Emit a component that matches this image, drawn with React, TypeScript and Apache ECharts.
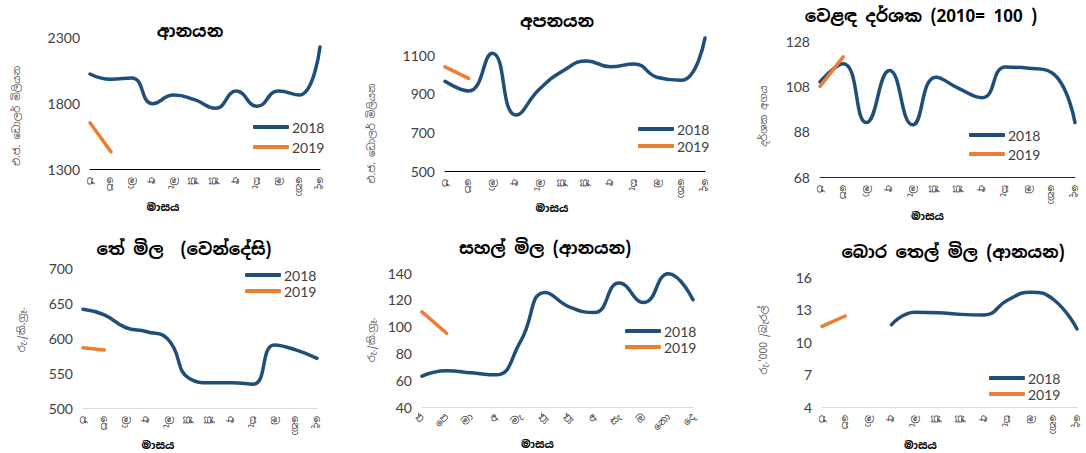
import React, { useEffect, useRef } from "react";
import * as echarts from "echarts";

const months = ["ජ", "පෙ", "මා", "අ", "මැ", "ජූ", "ජූ", "අ", "සැ", "ඔ", "නො", "දෙ"];
const seriesNames = ["2018", "2019"];

const titles = [
  "ආනයන",
  "අපනයන",
  "වෙළඳ දර්ශක (2010= 100 )",
  "තේ මිල  (වෙන්දේසි)",
  "සහල් මිල (ආනයන)",
  "බොර තෙල් මිල (ආනයන)",
];
const yNames = [
  "එ.ජ. ඩොලර් මිලියන",
  "එ.ජ. ඩොලර් මිලියන",
  "දර්ශක අගය",
  "රු./කි.ග්‍රෑ.",
  "රු./කි.ග්‍රෑ.",
  "රු.'000 /බැරල්",
];
const xName = "මාසය";

// Imports (US$ mn)
const imports2018 = [2020, 1980, 1990, 1795, 1860, 1825, 1760, 1890, 1775, 1890, 1860, 2225];
const imports2019 = [1650, 1430, null, null, null, null, null, null, null, null, null, null];
// Exports (US$ mn)
const exports2018 = [965, 915, 1110, 790, 925, 1020, 1070, 1040, 1055, 985, 970, 1190];
const exports2019 = [1040, 980, null, null, null, null, null, null, null, null, null, null];
// Terms of trade index
const tot2018 = [110, 118, 92, 115, 91, 112, 107, 103, 116.5, 116, 114, 92];
const tot2019 = [108, 121, null, null, null, null, null, null, null, null, null, null];
// Tea price (auction)
const tea2018 = [641, 633, 615, 609, 598, 542, 536, 536, 534, 590, 583, 571];
const tea2019 = [586, 583, null, null, null, null, null, null, null, null, null, null];
// Rice price (imports)
const rice2018 = [63, 67, 65.5, 64, 89, 125.5, 114.5, 110.5, 132.5, 118, 139.5, 120];
const rice2019 = [111, 95, null, null, null, null, null, null, null, null, null, null];
// Crude oil price (imports)
const crude2018 = [null, null, null, 11.6, 12.75, 12.7, 12.55, 12.5, 13.85, 14.6, 13.9, 11.2];
const crude2019 = [11.45, 12.4, null, null, null, null, null, null, null, null, null, null];

const yTicks = [
  [1300, 1800, 2300],
  [500, 700, 900, 1100],
  [68, 88, 108, 128],
  [500, 550, 600, 650, 700],
  [40, 60, 80, 100, 120, 140],
  [4, 7, 10, 13, 16],
];
const yRanges = [
  [1300, 2300],
  [500, 1200],
  [68, 128],
  [500, 700],
  [40, 140],
  [4, 16],
];
const data2018 = [imports2018, exports2018, tot2018, tea2018, rice2018, crude2018];
const data2019 = [imports2019, exports2019, tot2019, tea2019, rice2019, crude2019];

const SIN = "'Noto Sans Sinhala', 'Noto Serif Sinhala', 'Iskoola Pota', 'Noto Sans', sans-serif";
const NUM = "Lato, 'Noto Sans', sans-serif";
const BLUE = "#1F4E79";
const ORANGE = "#ED7D31";

// layout
const grids = [
  { left: 90, top: 37, width: 230, height: 132 },
  { left: 445, top: 36, width: 260, height: 135 },
  { left: 820, top: 41, width: 255, height: 136 },
  { left: 83, top: 268, width: 234, height: 140 },
  { left: 422, top: 273, width: 271, height: 134 },
  { left: 822, top: 277, width: 255, height: 130 },
];
const titlePos = [
  { x: 185, y: 17 },
  { x: 552, y: 7 },
  { x: 916, y: 2 },
  { x: 179, y: 235 },
  { x: 540, y: 234 },
  { x: 948, y: 238 },
];
const legendPos = [
  { x: 253, y: 119, gap: 4 },
  { x: 638, y: 121, gap: 1 },
  { x: 969, y: 127, gap: 3 },
  { x: 245, y: 267, gap: 0 },
  { x: 625, y: 323, gap: 0 },
  { x: 989, y: 370, gap: 0 },
];
const yNameGap = [69, 69, 52, 57, 46, 54];
const yNamePad = [
  [0, 26, 0, 0],
  [0, 60, 0, 0],
  [0, 14, 0, 0],
  [0, 0, 0, 16],
  [0, 0, 0, 0],
  [0, 0, 0, 4],
];
const xNameGap = [32, 27, 33, 31, 31, 32];
const xNamePad = [
  [0, 84, 0, 0],
  [0, 46, 0, 0],
  [0, 40, 0, 0],
  [0, 84, 0, 0],
  [0, 40, 0, 0],
  [0, 58, 0, 0],
];
const axisLineColors = ["#000000", "#000000", "#262626", "#D9D9D9", "#D9D9D9", "#D9D9D9"];
const xRotate = [-90, -90, -90, -90, 45, -90];

function buildOption() {
  const option: any = {
    animation: false,
    backgroundColor: "#ffffff",
    title: [],
    legend: [],
    grid: [],
    xAxis: [],
    yAxis: [],
    series: [],
  };
  for (let i = 0; i < 6; i++) {
    option.grid.push({ ...grids[i], containLabel: false });
    option.title.push({
      text: titles[i],
      left: titlePos[i].x,
      top: titlePos[i].y,
      textAlign: "center",
      textStyle: {
        fontFamily: SIN,
        fontWeight: "bold",
        fontSize: 17,
        color: "#000000",
      },
    });
    option.legend.push({
      data: seriesNames,
      left: legendPos[i].x,
      top: legendPos[i].y,
      orient: "vertical",
      itemGap: legendPos[i].gap,
      icon: "roundRect",
      itemWidth: 36,
      itemHeight: 4,
      padding: 0,
      selectedMode: false,
      textStyle: { fontFamily: NUM, fontSize: 14, color: "#404040", lineHeight: 16, padding: [0, 0, 0, -2] },
    });
    option.xAxis.push({
      type: "category",
      gridIndex: i,
      data: months,
      boundaryGap: false,
      axisLine: { show: true, lineStyle: { color: axisLineColors[i], width: 1 } },
      axisTick: { show: false },
      axisLabel: {
        interval: 0,
        rotate: xRotate[i],
        fontFamily: SIN,
        fontSize: 10,
        color: "#404040",
        margin: 8,
      },
      splitLine: { show: false },
      name: xName,
      nameLocation: "middle",
      nameGap: xNameGap[i],
      nameTextStyle: {
        fontFamily: SIN,
        fontWeight: "bold",
        fontSize: 11,
        color: "#000000",
        padding: xNamePad[i],
      },
    });
    option.yAxis.push({
      type: "value",
      gridIndex: i,
      min: yRanges[i][0],
      max: yRanges[i][1],
      axisLine: { show: false },
      axisTick: { show: false },
      splitLine: { show: false },
      axisLabel: {
        customValues: yTicks[i],
        formatter: (v: number) => String(v),
        fontFamily: NUM,
        fontSize: 14,
        color: "#404040",
        margin: 10,
      },
      name: yNames[i],
      nameLocation: "middle",
      nameRotate: 90,
      nameGap: yNameGap[i],
      nameTextStyle: {
        fontFamily: SIN,
        fontSize: 10,
        color: "#595959",
        padding: yNamePad[i],
      },
    });
    option.series.push({
      name: "2018",
      type: "line",
      xAxisIndex: i,
      yAxisIndex: i,
      data: data2018[i],
      smooth: 0.5,
      showSymbol: false,
      symbol: "none",
      connectNulls: false,
      lineStyle: { color: BLUE, width: 3.5, cap: "round", join: "round" },
      itemStyle: { color: BLUE },
    });
    option.series.push({
      name: "2019",
      type: "line",
      xAxisIndex: i,
      yAxisIndex: i,
      data: data2019[i],
      smooth: 0.5,
      showSymbol: false,
      symbol: "none",
      lineStyle: { color: ORANGE, width: 3.5, cap: "round", join: "round" },
      itemStyle: { color: ORANGE },
    });
  }
  return option;
}

export default function App() {
  const ref = useRef<HTMLDivElement>(null);
  useEffect(() => {
    document.body.style.margin = "0";
    if (!ref.current) return;
    const chart = echarts.init(ref.current, undefined, { renderer: "svg" });
    chart.setOption(buildOption());
    return () => {
      chart.dispose();
    };
  }, []);
  return <div ref={ref} style={{ width: 1086, height: 453 }} />;
}
